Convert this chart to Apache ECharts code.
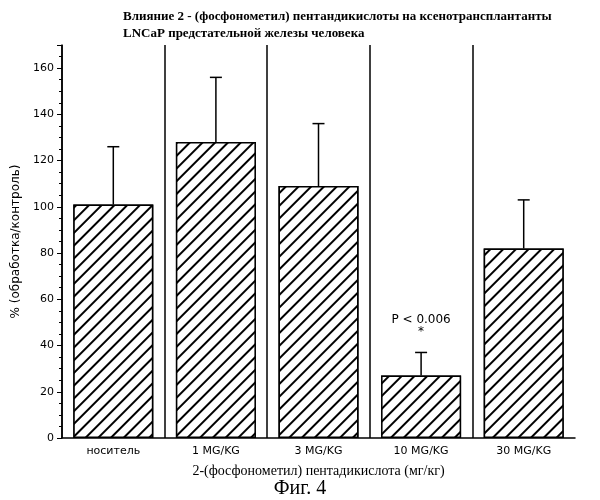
<!DOCTYPE html>
<html><head><meta charset="utf-8">
<script src="https://cdn.jsdelivr.net/npm/echarts@6/dist/echarts.min.js"></script>
<style>body{margin:0;background:#fff}#c{width:600px;height:500px}</style>
</head><body><div id="c"></div>
<script>
const categories = ['носитель','1 MG/KG','3 MG/KG','10 MG/KG','30 MG/KG'];
const values = [101, 128, 109, 27, 82];
const errorTops = [126, 156, 136, 37, 103];
const yTicks = [0,20,40,60,80,100,120,140,160];

const chart = echarts.init(document.getElementById('c'));
const serif = 'Liberation Serif';
chart.setOption({
  animation:false,
  title:[
    {text:'Влияние 2 - (фосфонометил) пентандикислоты на ксенотрансплантанты\nLNCaP предстательной железы человека',left:118,top:3,
     textStyle:{fontFamily:serif,fontSize:13,fontWeight:'bold',color:'#000',lineHeight:17}},
    {text:'Фиг. 4',left:'center',top:474,textStyle:{fontFamily:serif,fontSize:20,fontWeight:'normal',color:'#000'}}
  ],
  grid:{left:62,right:25,top:45,bottom:62},
  xAxis:{type:'category',data:categories,
    axisLine:{lineStyle:{color:'#000',width:1.5}},axisTick:{show:false},
    axisLabel:{color:'#000',fontFamily:'DejaVu Sans',fontSize:11,margin:8},
    splitLine:{show:true,lineStyle:{color:['#000','#000','#000','#000','#000','rgba(0,0,0,0)'],width:1.5}},
    name:'2-(фосфонометил) пентадикислота (мг/кг)',nameLocation:'middle',nameGap:26,
    nameTextStyle:{fontFamily:serif,fontSize:14,color:'#000'}},
  yAxis:{type:'value',min:0,max:170,interval:20,
    axisLine:{show:true,lineStyle:{color:'#000',width:1.5}},
    axisTick:{show:true,length:5,lineStyle:{color:'#000'}},
    minorTick:{show:true,splitNumber:4,length:3,lineStyle:{color:'#000'}},
    axisLabel:{color:'#000',fontFamily:'DejaVu Sans',fontSize:11,showMaxLabel:false,
      formatter:v=>yTicks.includes(v)?String(v):''},
    splitLine:{show:false},
    name:'% (обработка/контроль)',nameLocation:'middle',nameGap:36,
    nameTextStyle:{fontFamily:'DejaVu Sans',fontSize:12,color:'#000'}},
  series:[
    {type:'bar',data:values,barWidth:'78%',z:2,
     itemStyle:{color:'#fff',borderColor:'#000',borderWidth:1.5,
       decal:{symbol:'rect',color:'#000',backgroundColor:'#fff',dashArrayX:[1,0],dashArrayY:[1.5,7],rotation:-Math.PI/4}},
     label:{show:true,position:'top',distance:38,color:'#000',fontFamily:'DejaVu Sans',fontSize:12,
       formatter:p=>p.dataIndex===3?'P < 0.006\n*':''}},
    {type:'custom',z:3,data:values.map((v,i)=>[i,v,errorTops[i]]),
     renderItem:(params,api)=>{
       const b=api.coord([api.value(0),api.value(1)]);
       const t=api.coord([api.value(0),api.value(2)]);
       const st={stroke:'#000',lineWidth:1.5};
       return {type:'group',children:[
         {type:'line',shape:{x1:b[0],y1:b[1],x2:t[0],y2:t[1]},style:st},
         {type:'line',shape:{x1:t[0]-6,y1:t[1],x2:t[0]+6,y2:t[1]},style:st}]};
     }}
  ]
});
</script></body></html>
